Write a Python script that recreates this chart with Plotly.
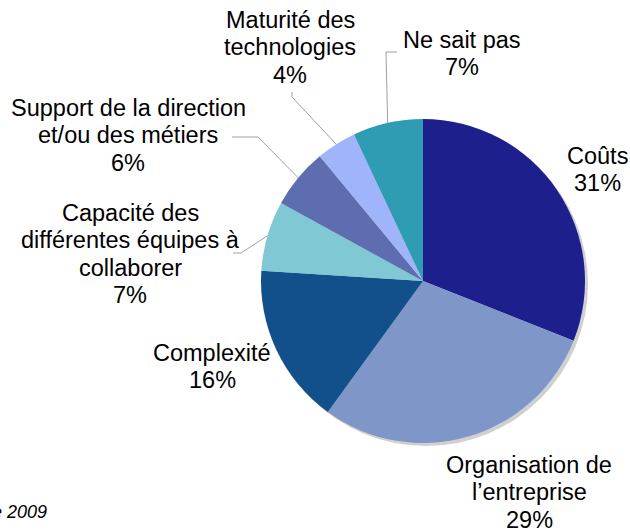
import math
import plotly.graph_objects as go

# ---- data ----
categories = ["Coûts", "Organisation de l'entreprise", "Complexité",
              "Capacité des différentes équipes à collaborer",
              "Support de la direction et/ou des métiers",
              "Maturité des technologies", "Ne sait pas"]
values = [31, 29, 16, 7, 6, 4, 7]
label_lines = [
    ["Coûts", "31%"],
    ["Organisation de", "l\u2019entreprise", "29%"],
    ["Complexité", "16%"],
    ["Capacité des", "différentes équipes à", "collaborer", "7%"],
    ["Support de la direction", "et/ou des métiers", "6%"],
    ["Maturité des", "technologies", "4%"],
    ["Ne sait pas", "7%"],
]
colors = ["#1c1f8c", "#7f97c8", "#12508c", "#80c8d4", "#5d6db0", "#a0b4fa", "#2e9db4"]
source_text = "<i>e 2009</i>"

# ---- layout (pixels) ----
W, H = 630, 531
CX, CY, R = 423, 281, 162
FS = 23.5
LS = 27.3
# label block: (center x, y of first line center)
label_pos = [(597, 156), (529, 465), (212, 353), (130, 213), (128, 108), (290, 20), (462, 40)]
# leader elbows: list of pixel points after the pie-edge point (None = no leader)
leaders = [None, None, None,
           [(241, 253), (233, 253)],
           [(258, 137), (232, 137)],
           [(292, 97), (292, 92)],
           [(386, 52), (397, 52)]]


def px(x):
    return x / W


def py(y):
    return 1 - y / H


fig = go.Figure()
# shadow
fig.add_trace(go.Pie(values=[1], marker=dict(colors=["#d0d0d0"], line=dict(width=0)),
                     textinfo="none", hoverinfo="skip", sort=False, showlegend=False,
                     domain=dict(x=[px(CX - R + 3), px(CX + R + 3)], y=[py(CY + R + 3), py(CY - R + 3)])))
fig.add_trace(go.Pie(labels=categories, values=values, sort=False, direction="clockwise",
                     rotation=0, marker=dict(colors=colors, line=dict(width=0)),
                     textinfo="none", showlegend=False,
                     domain=dict(x=[px(CX - R), px(CX + R)], y=[py(CY + R), py(CY - R)])))

ann = []
for lines, (lx, ly) in zip(label_lines, label_pos):
    for i, t in enumerate(lines):
        ann.append(dict(x=px(lx), y=py(ly + i * LS), xref="paper", yref="paper",
                        text=t, showarrow=False, xanchor="center", yanchor="middle",
                        font=dict(size=FS, color="black", family="Liberation Sans, Arial")))
ann.append(dict(x=px(49), y=py(512), xref="paper", yref="paper", text=source_text,
                showarrow=False, xanchor="right", yanchor="middle",
                font=dict(size=18, color="black", family="Liberation Sans, Arial")))

shapes = []
total = sum(values)
cum = 0
for v, ld in zip(values, leaders):
    mid = (cum + v / 2) / total * 2 * math.pi
    cum += v
    if ld is None:
        continue
    pts = [(CX + R * math.sin(mid), CY - R * math.cos(mid))] + ld
    path = "M " + " L ".join(f"{px(x)},{py(y)}" for x, y in pts)
    shapes.append(dict(type="path", path=path, xref="paper", yref="paper",
                       line=dict(color="#a0a0a0", width=1)))

fig.update_layout(width=W, height=H, margin=dict(l=0, r=0, t=0, b=0),
                  paper_bgcolor="white", plot_bgcolor="white",
                  annotations=ann, shapes=shapes,
                  xaxis=dict(visible=False, range=[0, 1]), yaxis=dict(visible=False, range=[0, 1]))
fig.write_html("out.html", config={"displayModeBar": False},
               post_script="document.body.style.margin='0';document.body.style.overflow='hidden';")
